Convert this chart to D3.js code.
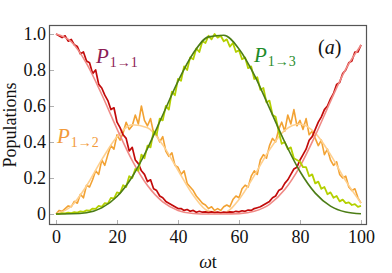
<!DOCTYPE html>
<html>
<head>
<meta charset="utf-8">
<script src="https://cdn.jsdelivr.net/npm/d3@7"></script>
<style>
  body { margin: 0; background: #fff; }
  svg { display: block; }
  text { font-family: "Liberation Serif", "DejaVu Serif", serif; }
</style>
</head>
<body>
<svg id="chart" width="392" height="273"></svg>
<script>
// smooth (ideal) curves, sampled every 5 units of wt
const tSmooth = [0, 5, 10, 15, 20, 25, 30, 35, 40, 45, 50, 55, 60, 65, 70, 75, 80, 85, 90, 95, 100];
const p11Smooth = [1, .957, .837, .664, .473, .297, .158, .067, .020, .003, .000, .000, .002, .015, .054, .136, .265, .436, .626, .805, .938];
const p12Smooth = [0, .043, .156, .302, .429, .496, .479, .384, .243, .104, .016, .007, .081, .213, .357, .465, .500, .449, .330, .184, .061];
const p13Smooth = [0, .001, .007, .034, .097, .207, .364, .550, .737, .893, .984, .993, .917, .773, .588, .400, .236, .116, .044, .011, .001];

// noisy curves, read every 1 unit of wt
const tNoisy = d3.range(0, 101);
const p11Noisy = [
  1.00, .99, .98, .99, .96, .97, .94, .93, .89, .90,
  .85, .84, .78, .80, .72, .70, .66, .63, .58, .59,
  .51, .48, .44, .42, .35, .37, .30, .28, .24, .22,
  .18, .19, .14, .13, .10, .09, .07, .06, .05, .04,
  .03, .03, .02, .025, .015, .02, .01, .015, .01, .012,
  .008, .012, .008, .01, .006, .01, .008, .012, .01, .015,
  .012, .018, .015, .022, .02, .03, .035, .04, .05, .06,
  .07, .09, .10, .13, .14, .17, .19, .22, .25, .26,
  .30, .33, .36, .41, .43, .47, .51, .54, .58, .60,
  .64, .67, .72, .73, .78, .80, .84, .85, .90, .90,
  .94
];
const p12Noisy = [
  .00, .02, .015, .03, .045, .04, .07, .06, .11, .09,
  .16, .15, .19, .24, .22, .30, .27, .33, .38, .36,
  .44, .41, .45, .51, .47, .49, .55, .50, .60, .52,
  .49, .53, .45, .44, .40, .43, .35, .32, .34, .27,
  .26, .22, .24, .17, .15, .13, .10, .08, .06, .05,
  .03, .04, .02, .03, .02, .04, .05, .04, .08, .10,
  .09, .14, .16, .15, .21, .24, .22, .30, .33, .31,
  .38, .42, .40, .47, .51, .46, .55, .50, .58, .49,
  .52, .47, .53, .44, .46, .42, .38, .41, .33, .36,
  .30, .27, .29, .22, .20, .21, .15, .13, .14, .09,
  .06
];
const p13Noisy = [
  .00, .00, .005, .003, .008, .005, .01, .008, .015, .012,
  .02, .018, .03, .028, .045, .04, .06, .058, .09, .085,
  .12, .115, .16, .15, .21, .20, .25, .24, .33, .31,
  .38, .37, .46, .44, .53, .52, .60, .58, .68, .66,
  .75, .74, .82, .80, .87, .86, .92, .90, .96, .95,
  .99, .97, 1.00, .98, .99, .96, .97, .93, .95, .90,
  .91, .86, .87, .81, .82, .75, .76, .69, .70, .62,
  .63, .55, .54, .46, .39, .40, .36, .37, .31, .30,
  .29, .26, .26, .21, .22, .17, .18, .14, .15, .11,
  .12, .09, .10, .07, .08, .06, .065, .05, .055, .04,
  .045
];

const xTicks = [0, 20, 40, 60, 80, 100];
const yTicks = [0, 0.2, 0.4, 0.6, 0.8, 1.0];

const svg = d3.select('#chart');
const frame = { left: 50, right: 367, top: 25, bottom: 224 };

const x = d3.scaleLinear().domain([0, 100]).range([56, 361]);
const y = d3.scaleLinear().domain([0, 1]).range([214, 34]);

// axes with inward ticks
const xAxis = svg.append('g')
  .attr('transform', `translate(0,${frame.bottom})`)
  .call(d3.axisBottom(x).tickValues(xTicks).tickSize(-4).tickPadding(6).tickFormat(d3.format('d')));
const yAxis = svg.append('g')
  .attr('transform', `translate(${frame.left},0)`)
  .call(d3.axisLeft(y).tickValues(yTicks).tickSize(-4).tickPadding(4)
    .tickFormat(d => d === 0 ? '0' : d3.format('.1f')(d)));

[xAxis, yAxis].forEach(g => {
  g.attr('font-family', null);
  g.select('.domain').remove();
  g.selectAll('.tick line').attr('stroke', '#b0b0b0');
  g.selectAll('.tick text')
    .attr('fill', '#111')
    .style('font-family', '"Liberation Serif", serif')
    .style('font-size', '18px');
});

// series
svg.append('clipPath').attr('id', 'plotclip')
  .append('rect')
  .attr('x', frame.left).attr('y', frame.top)
  .attr('width', frame.right - frame.left).attr('height', frame.bottom - frame.top);

const plot = svg.append('g').attr('clip-path', 'url(#plotclip)');

const noisyLine = d3.line().x((d, i) => x(tNoisy[i])).y(d => y(d));
const smoothLine = d3.line().x((d, i) => x(tSmooth[i])).y(d => y(d)).curve(d3.curveMonotoneX);

const layers = [
  { data: p12Noisy, line: noisyLine, color: '#f2a233', w: 1.6 },
  { data: p12Smooth, line: smoothLine, color: '#ffd08e', w: 1.6 },
  { data: p11Noisy, line: noisyLine, color: '#c20a0a', w: 1.7 },
  { data: p11Smooth, line: smoothLine, color: '#f08a86', w: 1.6 },
  { data: p13Noisy, line: noisyLine, color: '#b4d000', w: 1.8 },
  { data: p13Smooth, line: smoothLine, color: '#4c7d16', w: 1.6 }
];

plot.selectAll('path.series')
  .data(layers)
  .join('path')
  .attr('class', 'series')
  .attr('fill', 'none')
  .attr('stroke', d => d.color)
  .attr('stroke-width', d => d.w)
  .attr('stroke-linejoin', 'round')
  .attr('d', d => d.line(d.data));

// frame
svg.append('rect')
  .attr('x', frame.left - 0.5).attr('y', frame.top + 0.5)
  .attr('width', frame.right - frame.left).attr('height', frame.bottom - frame.top)
  .attr('fill', 'none')
  .attr('stroke', '#555')
  .attr('stroke-width', 1.2);

// curve labels
function pLabel(px, py, sub, color) {
  const t = svg.append('text').attr('x', px).attr('y', py).attr('fill', color);
  t.append('tspan').style('font-style', 'italic').style('font-size', '21px').text('P');
  t.append('tspan').attr('dy', 4).attr('dx', 1).style('font-size', '14px').text(sub);
}
pLabel(96, 63, '1→1', '#8c1d55');
pLabel(57, 143, '1→2', '#f29a3a');
pLabel(254, 62, '1→3', '#1f8c2a');

// panel tag
const tag = svg.append('text').attr('x', 318).attr('y', 54).attr('fill', '#111').style('font-size', '20px');
tag.append('tspan').text('(');
tag.append('tspan').style('font-style', 'italic').text('a');
tag.append('tspan').text(')');

// axis titles
const xt = svg.append('text').attr('x', 208).attr('y', 268).attr('text-anchor', 'middle')
  .attr('fill', '#111').style('font-size', '18px');
xt.append('tspan').style('font-style', 'italic').text('ω');
xt.append('tspan').text('t');

svg.append('text')
  .attr('transform', 'translate(16,125) rotate(-90)')
  .attr('text-anchor', 'middle')
  .attr('fill', '#111')
  .style('font-size', '18px')
  .text('Populations');
</script>
</body>
</html>
